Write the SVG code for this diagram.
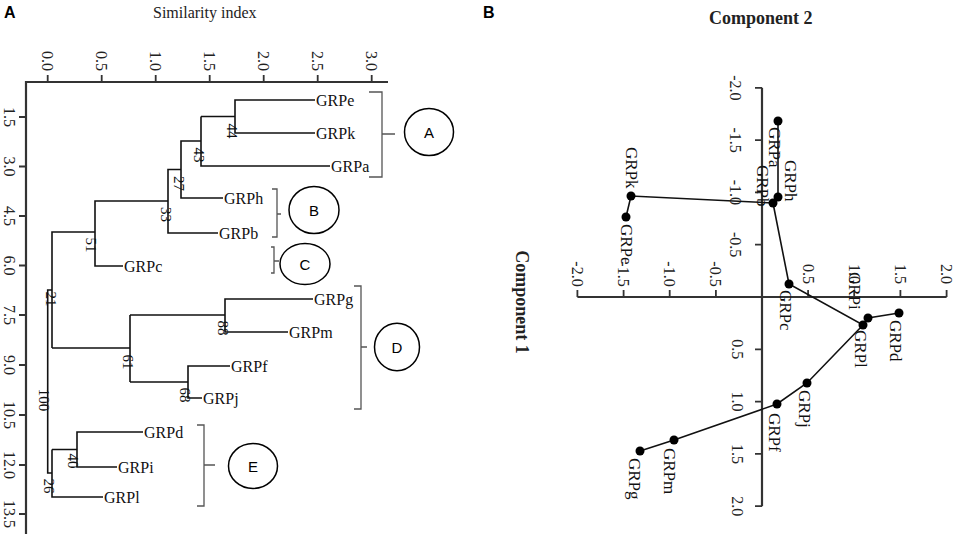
<svg xmlns="http://www.w3.org/2000/svg" width="957" height="536" viewBox="0 0 957 536">
<style>
.panel{font-family:"Liberation Sans",Arial,sans-serif;font-weight:bold;font-size:16px;fill:#000}
.ttl{font-family:"Liberation Serif","Times New Roman",serif;font-size:16px;fill:#222}
.ttlb{font-family:"Liberation Serif","Times New Roman",serif;font-size:18px;font-weight:bold;fill:#222}
.tick{font-family:"Liberation Serif","Times New Roman",serif;font-size:16px;fill:#222}
.leaf{font-family:"Liberation Serif","Times New Roman",serif;font-size:16px;fill:#111}
.boot{font-family:"Liberation Serif","Times New Roman",serif;font-size:15px;fill:#111}
.plab{font-family:"Liberation Serif","Times New Roman",serif;font-size:17px;fill:#111}
.circ{font-family:"Liberation Sans",Arial,sans-serif;font-size:15px;fill:#000}
.axis{stroke:#333;stroke-width:2.2;fill:none}
.tk{stroke:#333;stroke-width:1.8;fill:none}
.den{stroke:#111;stroke-width:1.6;fill:none}
.brk{stroke:#555;stroke-width:1.3;fill:none}
.oval{stroke:#000;stroke-width:1.5;fill:#fff}
.pca{stroke:#111;stroke-width:1.6;fill:none}
.dot{fill:#000}
</style>

<!-- Panel A -->
<text class="panel" x="4" y="18">A</text>
<text class="ttl" x="153" y="18">Similarity index</text>

<g id="axesA">
  <path class="axis" d="M26,534 V82 H388"/>
  <path class="tk" d="M47.7,75V82 M101.7,75V82 M155.7,75V82 M209.7,75V82 M263.7,75V82 M317.7,75V82 M371.7,75V82"/>
  <path class="tk" d="M19,117H26 M19,166.5H26 M19,216H26 M19,265.5H26 M19,315H26 M19,365H26 M19,415H26 M19,465H26 M19,514H26"/>
  <g class="tick" text-anchor="middle">
    <text transform="translate(42,61) rotate(90)">0.0</text>
    <text transform="translate(96,61) rotate(90)">0.5</text>
    <text transform="translate(150,61) rotate(90)">1.0</text>
    <text transform="translate(204,61) rotate(90)">1.5</text>
    <text transform="translate(258,61) rotate(90)">2.0</text>
    <text transform="translate(312,61) rotate(90)">2.5</text>
    <text transform="translate(366,61) rotate(90)">3.0</text>
    <text transform="translate(4,117) rotate(90)">1.5</text>
    <text transform="translate(4,166.5) rotate(90)">3.0</text>
    <text transform="translate(4,216) rotate(90)">4.5</text>
    <text transform="translate(4,265.5) rotate(90)">6.0</text>
    <text transform="translate(4,315) rotate(90)">7.5</text>
    <text transform="translate(4,365) rotate(90)">9.0</text>
    <text transform="translate(4,415) rotate(90)">10.5</text>
    <text transform="translate(4,465) rotate(90)">12.0</text>
    <text transform="translate(4,514) rotate(90)">13.5</text>
  </g>
</g>

<g id="connectors-dendrogram">
  <path class="den" d="M315,100 H235 V133 H315 M235,116.5 H201 M330,166 H201 V116.5 M201,141 H181 V198 H223 M181,169.5 H168 V233 H218 M168,201 H95 V266 H123 M95,232 H52 V348 M52,348 H130 M130,315 V382 M130,315 H225 V299 H313 M225,299 V332 H288 M130,382 H188 V366 H230 M188,382 V398 H202 M52,290 H47.7 V473 H52 M52,449.5 V497 H103 M52,449.5 H77 V432 H143 M77,449.5 V467 H117"/>
</g>

<g id="bootstrap" class="boot" text-anchor="middle">
  <text transform="translate(227,131) rotate(90)">44</text>
  <text transform="translate(194,155) rotate(90)">43</text>
  <text transform="translate(174,183.5) rotate(90)">27</text>
  <text transform="translate(161,214.5) rotate(90)">33</text>
  <text transform="translate(86,245) rotate(90)">51</text>
  <text transform="translate(46,299) rotate(90)">21</text>
  <text transform="translate(218,328) rotate(90)">88</text>
  <text transform="translate(123,362) rotate(90)">61</text>
  <text transform="translate(180,395) rotate(90)">68</text>
  <text transform="translate(39,400) rotate(90)">100</text>
  <text transform="translate(68,461) rotate(90)">40</text>
  <text transform="translate(44,486) rotate(90)">26</text>
</g>

<g id="leaf-GRPe"><text class="leaf" x="316" y="105.5">GRPe</text></g>
<g id="leaf-GRPk"><text class="leaf" x="316" y="138.5">GRPk</text></g>
<g id="leaf-GRPa"><text class="leaf" x="331" y="171.5">GRPa</text></g>
<g id="leaf-GRPh"><text class="leaf" x="224" y="203.5">GRPh</text></g>
<g id="leaf-GRPb"><text class="leaf" x="219" y="238.5">GRPb</text></g>
<g id="leaf-GRPc"><text class="leaf" x="124" y="271.5">GRPc</text></g>
<g id="leaf-GRPg"><text class="leaf" x="314" y="304.5">GRPg</text></g>
<g id="leaf-GRPm"><text class="leaf" x="289" y="337.5">GRPm</text></g>
<g id="leaf-GRPf"><text class="leaf" x="231" y="371.5">GRPf</text></g>
<g id="leaf-GRPj"><text class="leaf" x="203" y="403.5">GRPj</text></g>
<g id="leaf-GRPd"><text class="leaf" x="144" y="437.5">GRPd</text></g>
<g id="leaf-GRPi"><text class="leaf" x="118" y="472.5">GRPi</text></g>
<g id="leaf-GRPl"><text class="leaf" x="104" y="502.5">GRPl</text></g>

<g id="group-A">
  <path class="brk" d="M369,92 H382 V177 H369 M382,134 H395"/>
  <ellipse class="oval" cx="429" cy="132" rx="24.5" ry="23.5"/>
  <text class="circ" x="429" y="137.5" text-anchor="middle">A</text>
</g>
<g id="group-B">
  <path class="brk" d="M272,189 H277 V237 H272 M277,214 H281"/>
  <ellipse class="oval" cx="314" cy="210" rx="25" ry="23.5"/>
  <text class="circ" x="314" y="215.5" text-anchor="middle">B</text>
</g>
<g id="group-C">
  <path class="brk" d="M271,247 H274 V273 H271 M274,261 H279"/>
  <ellipse class="oval" cx="305" cy="264" rx="25" ry="20.5"/>
  <text class="circ" x="305" y="269.5" text-anchor="middle">C</text>
</g>
<g id="group-D">
  <path class="brk" d="M354,286 H361 V409 H354 M361,347 H367"/>
  <ellipse class="oval" cx="397" cy="347" rx="22.5" ry="23.7"/>
  <text class="circ" x="397" y="352.5" text-anchor="middle">D</text>
</g>
<g id="group-E">
  <path class="brk" d="M197,425 H204 V506 H197 M204,465 H215"/>
  <ellipse class="oval" cx="253" cy="466" rx="24.5" ry="22.5"/>
  <text class="circ" x="253" y="471.5" text-anchor="middle">E</text>
</g>

<!-- Panel B -->
<text class="panel" x="483" y="18">B</text>
<text class="ttlb" x="709" y="24">Component 2</text>
<text class="ttlb" transform="translate(516,302) rotate(90)" text-anchor="middle">Component 1</text>

<g id="axesB">
  <path class="axis" d="M577.4,297 H946.6 M762,87.8 V506.2"/>
  <path class="tk" d="M577.4,290V297 M623.6,290V297 M669.7,290V297 M715.9,290V297 M808.1,290V297 M854.2,290V297 M900.4,290V297 M946.6,290V297"/>
  <path class="tk" d="M755,87.8H762 M755,140.1H762 M755,192.4H762 M755,244.7H762 M755,349.3H762 M755,401.6H762 M755,453.9H762 M755,506.2H762"/>
  <g class="tick" text-anchor="middle">
    <text transform="translate(572,274) rotate(90)">-2.0</text>
    <text transform="translate(618,274) rotate(90)">-1.5</text>
    <text transform="translate(664,274) rotate(90)">-1.0</text>
    <text transform="translate(710,274) rotate(90)">-0.5</text>
    <text transform="translate(802.5,274) rotate(90)">0.5</text>
    <text transform="translate(848.5,274) rotate(90)">1.0</text>
    <text transform="translate(895,274) rotate(90)">1.5</text>
    <text transform="translate(941,274) rotate(90)">2.0</text>
    <text transform="translate(730,87.8) rotate(90)">-2.0</text>
    <text transform="translate(730,140.1) rotate(90)">-1.5</text>
    <text transform="translate(730,192.4) rotate(90)">-1.0</text>
    <text transform="translate(730,244.7) rotate(90)">-0.5</text>
    <text transform="translate(732,349.3) rotate(90)">0.5</text>
    <text transform="translate(732,401.6) rotate(90)">1.0</text>
    <text transform="translate(732,453.9) rotate(90)">1.5</text>
    <text transform="translate(732,506.2) rotate(90)">2.0</text>
  </g>
</g>

<g id="connectors-pca">
  <path class="pca" d="M626,217 L631,196 L773,203 L778,197 L778,121 M773,203 L789,284 L863,325 L868,318 L899,313 M863,325 L807,383 L777,404 L674,440 L640,451"/>
</g>

<g id="pt-GRPa"><circle class="dot" cx="778" cy="121" r="4.5"/><text class="plab" transform="translate(769,127) rotate(90)">GRPa</text></g>
<g id="pt-GRPh"><circle class="dot" cx="778" cy="197" r="4.5"/><text class="plab" transform="translate(785,160) rotate(90)">GRPh</text></g>
<g id="pt-GRPb"><circle class="dot" cx="773" cy="203" r="4.5"/><text class="plab" transform="translate(757,165) rotate(90)">GRPb</text></g>
<g id="pt-GRPk"><circle class="dot" cx="631" cy="196" r="4.5"/><text class="plab" transform="translate(626,147) rotate(90)">GRPk</text></g>
<g id="pt-GRPe"><circle class="dot" cx="626" cy="217" r="4.5"/><text class="plab" transform="translate(621,224) rotate(90)">GRPe</text></g>
<g id="pt-GRPc"><circle class="dot" cx="789" cy="284" r="4.5"/><text class="plab" transform="translate(780,290) rotate(90)">GRPc</text></g>
<g id="pt-GRPi"><circle class="dot" cx="868" cy="318" r="4.5"/><text class="plab" transform="translate(849,272) rotate(90)">GRPi</text></g>
<g id="pt-GRPl"><circle class="dot" cx="863" cy="325" r="4.5"/><text class="plab" transform="translate(855,330) rotate(90)">GRPl</text></g>
<g id="pt-GRPd"><circle class="dot" cx="899" cy="313" r="4.5"/><text class="plab" transform="translate(890,320) rotate(90)">GRPd</text></g>
<g id="pt-GRPj"><circle class="dot" cx="807" cy="383" r="4.5"/><text class="plab" transform="translate(799,390) rotate(90)">GRPj</text></g>
<g id="pt-GRPf"><circle class="dot" cx="777" cy="404" r="4.5"/><text class="plab" transform="translate(769,413) rotate(90)">GRPf</text></g>
<g id="pt-GRPm"><circle class="dot" cx="674" cy="440" r="4.5"/><text class="plab" transform="translate(664,448) rotate(90)">GRPm</text></g>
<g id="pt-GRPg"><circle class="dot" cx="640" cy="451" r="4.5"/><text class="plab" transform="translate(629,458) rotate(90)">GRPg</text></g>
</svg>
